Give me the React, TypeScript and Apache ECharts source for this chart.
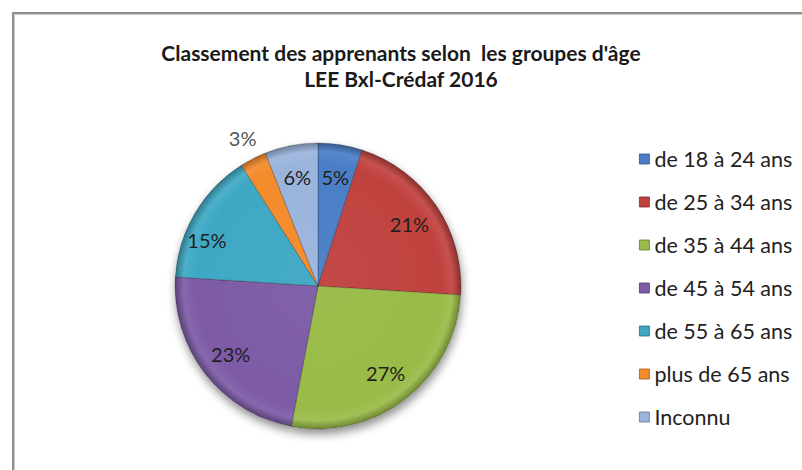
import React, { useEffect, useRef } from "react";
import * as echarts from "echarts";

const categories = [
  "de 18 à 24 ans",
  "de 25 à 34 ans",
  "de 35 à 44 ans",
  "de 45 à 54 ans",
  "de 55 à 65 ans",
  "plus de 65 ans",
  "Inconnu",
];
const values = [5, 21, 27, 23, 15, 3, 6];
const colors = ["#4a7ec6", "#c0423f", "#99bb47", "#7d5ba6", "#3ea8c4", "#f38b2b", "#9ab4dc"];
const titleLines = ["Classement des apprenants selon  les groupes d'âge", "LEE Bxl-Crédaf 2016"];

const CX = 318;
const CY = 286;
const R = 143;
const FONT = "Lato, 'Liberation Sans', sans-serif";

function mix(hex: string, target: number, t: number): string {
  const n = parseInt(hex.slice(1), 16);
  const ch = [(n >> 16) & 255, (n >> 8) & 255, n & 255].map((c) => Math.round(c + (target - c) * t));
  return "rgb(" + ch.join(",") + ")";
}

function fillFor(c: string) {
  return {
    type: "radial",
    x: CX,
    y: CY,
    r: R,
    global: true,
    colorStops: [
      { offset: 0, color: mix(c, 255, 0.04) },
      { offset: 0.86, color: c },
      { offset: 0.94, color: mix(c, 255, 0.08) },
      { offset: 1, color: mix(c, 0, 0.28) },
    ],
  };
}

export default function App() {
  const ref = useRef<HTMLDivElement>(null);
  useEffect(() => {
    if (!ref.current) return;
    const chart = echarts.init(ref.current, null, { renderer: "svg" });
    const total = values.reduce((a, b) => a + b, 0);
    const pct = (v: number) => Math.round((v / total) * 100) + "%";
    const mainData = categories.map((name, i) => ({
      name,
      value: values[i],
      itemStyle: { color: fillFor(colors[i]) },
    }));
    const legendData = categories.map((name, i) => ({
      name,
      itemStyle: { color: colors[i], borderColor: mix(colors[i], 0, 0.35), borderWidth: 0.8 },
    }));
    const smallIdx = values.map((v) => v / total < 0.04);
    chart.setOption({
      animation: false,
      backgroundColor: "#ffffff",
      title: {
        text: titleLines.join("\n"),
        left: "center",
        top: 34,
        textStyle: { fontFamily: FONT, fontSize: 21, fontWeight: "bold", color: "#1a1a1a", lineHeight: 26 },
      },
      legend: {
        orient: "vertical",
        left: 634,
        top: 143,
        icon: "rect",
        itemWidth: 10,
        itemHeight: 10,
        itemGap: 21,
        selectedMode: false,
        data: legendData,
        textStyle: { fontFamily: FONT, fontSize: 21.5, color: "#222", lineHeight: 22 },
      },
      graphic: [
        { type: "rect", shape: { x: 13, y: 13, width: 900, height: 600 }, style: { fill: "none", stroke: "#8f8f8f", lineWidth: 2 } },
        { type: "rect", shape: { x: 14.5, y: 14.5, width: 900, height: 600 }, style: { fill: "none", stroke: "#cfcfcf", lineWidth: 1 } },
      ],
      series: [
        {
          type: "pie",
          center: [CX, CY],
          radius: [0, R],
          startAngle: 90,
          silent: true,
          label: { show: false },
          labelLine: { show: false },
          itemStyle: { color: "#ffffff", shadowBlur: 10, shadowOffsetY: 5, shadowOffsetX: 1, shadowColor: "rgba(0,0,0,0.45)" },
          data: categories.map((name, i) => ({ name: name + " ", value: values[i] })),
          legendHoverLink: false,
        },
        {
          type: "pie",
          center: [CX, CY],
          radius: [0, R],
          startAngle: 90,
          silent: true,
          label: { show: false },
          labelLine: { show: false },
          itemStyle: { borderColor: "rgba(0,0,0,0.3)", borderWidth: 0.8 },
          data: mainData,
        },
        {
          type: "pie",
          center: [CX, CY],
          radius: [72, R],
          startAngle: 90,
          silent: true,
          labelLine: { show: false },
          itemStyle: { color: "rgba(0,0,0,0)" },
          label: {
            show: true,
            position: "inside",
            fontFamily: FONT,
            fontSize: 20,
            color: "#1f1f1f",
          },
          data: categories.map((name, i) => ({
            name: name + "  ",
            value: values[i],
            label: {
              show: !smallIdx[i],
              formatter: pct(values[i]),
              offset: i === 4 ? [-16, 10] : [0, 0],
            },
          })),
        },
        {
          type: "pie",
          center: [CX, CY],
          radius: [R, R + 40],
          startAngle: 90,
          silent: true,
          labelLine: { show: false },
          itemStyle: { color: "rgba(0,0,0,0)" },
          label: {
            show: true,
            position: "inside",
            fontFamily: FONT,
            fontSize: 20,
            color: "#555555",
          },
          data: categories.map((name, i) => ({
            name: name + "   ",
            value: values[i],
            label: { show: smallIdx[i], formatter: pct(values[i]) },
          })),
        },
      ],
    });
    return () => chart.dispose();
  }, []);
  return <div ref={ref} style={{ position: "fixed", left: 0, top: 0, width: 802, height: 470 }} />;
}
